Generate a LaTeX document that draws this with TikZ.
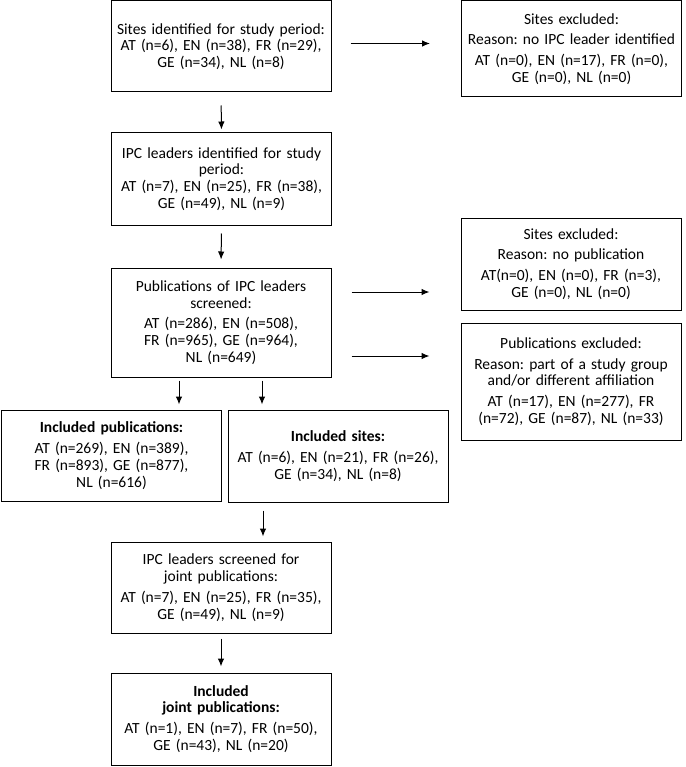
\documentclass[tikz,border=0pt]{standalone}
\usepackage{fontspec}
\setmainfont{Carlito}
\frenchspacing
\usetikzlibrary{arrows.meta}

\begin{document}
\begin{tikzpicture}[x=1pt,y=-1pt,
  box/.style={draw,line width=1pt,text width=210pt,inner xsep=5pt,inner ysep=0pt,
    align=center,font=\fontsize{15.5}{16.8}\selectfont},
  arr/.style={-{Latex[length=8pt,width=6.5pt]},line width=1pt}]
\useasboundingbox (0,0) rectangle (685,767);
% main column
\node[box,minimum height=91pt] (site) at (221,46.5) {Sites identified for study period:\\ AT (n=6), EN (n=38), FR (n=29),\\ GE (n=34), NL (n=8)};
\node[box,minimum height=92pt] (leader) at (221.5,179) {IPC leaders identified for study\\ period:\\ AT (n=7), EN (n=25), FR (n=38),\\ GE (n=49), NL (n=9)};
\node[box,minimum height=109pt] (pub) at (221,322.5) {Publications of IPC leaders\\ screened:\\[4pt] AT (n=286), EN (n=508),\\ FR (n=965), GE (n=964),\\ NL (n=649)};
\node[box,minimum height=91pt] (inclPub) at (111.5,455.5) {\textbf{Included publications:}\\[4pt] AT (n=269), EN (n=389),\\ FR (n=893), GE (n=877),\\ NL (n=616)};
\node[box,minimum height=92pt] (inclSite) at (338,456) {\textbf{Included sites:}\\[4pt] AT (n=6), EN (n=21), FR (n=26),\\ GE (n=34), NL (n=8)};
\node[box,minimum height=91pt] (screened) at (221,587.5) {IPC leaders screened for\\ joint publications:\\[4pt] AT (n=7), EN (n=25), FR (n=35),\\ GE (n=49), NL (n=9)};
\node[box,minimum height=92pt] (joint) at (221,719) {\textbf{Included}\\ \textbf{joint publications:}\\[4pt] AT (n=1), EN (n=7), FR (n=50),\\ GE (n=43), NL (n=20)};
% exclusions
\node[box,minimum height=96pt] (exSite) at (571.5,49) {Sites excluded:\\[4pt] Reason: no IPC leader identified\\[4pt] AT (n=0), EN (n=17), FR (n=0),\\ GE (n=0), NL (n=0)};
\node[box,minimum height=92pt] (exPubSite) at (571,264) {Sites excluded:\\[4pt] Reason: no publication\\[4pt] AT(n=0), EN (n=0), FR (n=3),\\ GE (n=0), NL (n=0)};
\node[box,minimum height=117pt] (exPub) at (571,381.5) {Publications excluded:\\[4pt] Reason: part of a study group\\ and/or different affiliation\\[4pt] AT (n=17), EN (n=277), FR\\ (n=72), GE (n=87), NL (n=33)};
% arrows
\coordinate (pA) at ([yshift=30.5pt]pub.east);
\coordinate (pB) at ([yshift=-33.5pt]pub.east);
\coordinate (pC) at ([xshift=-42pt]pub.south);
\coordinate (pD) at ([xshift=41pt]pub.south);
\coordinate (sA) at ([xshift=42pt]screened.north);
\draw[arr,shorten <=19pt,shorten >=31pt] ([yshift=3pt]site.east) -- ([yshift=3pt]site.east -| exSite.west);
\draw[arr,shorten <=13pt,shorten >=3pt] (site.south) -- (leader.north);
\draw[arr,shorten <=8pt,shorten >=8pt] (leader.south) -- (pub.north);
\draw[arr,shorten <=20pt,shorten >=31pt] (pA) -- (pA -| exPubSite.west);
\draw[arr,shorten <=20pt,shorten >=31pt] (pB) -- (pB -| exPub.west);
\draw[arr,shorten <=3pt,shorten >=5pt] (pC) -- (pC |- inclPub.north);
\draw[arr,shorten <=3pt,shorten >=5pt] (pD) -- (pD |- inclSite.north);
\draw[arr,shorten <=8pt,shorten >=5pt] (sA |- inclSite.south) -- (sA);
\draw[arr,shorten <=5pt,shorten >=6pt] (screened.south) -- (joint.north);
\end{tikzpicture}
\end{document}
